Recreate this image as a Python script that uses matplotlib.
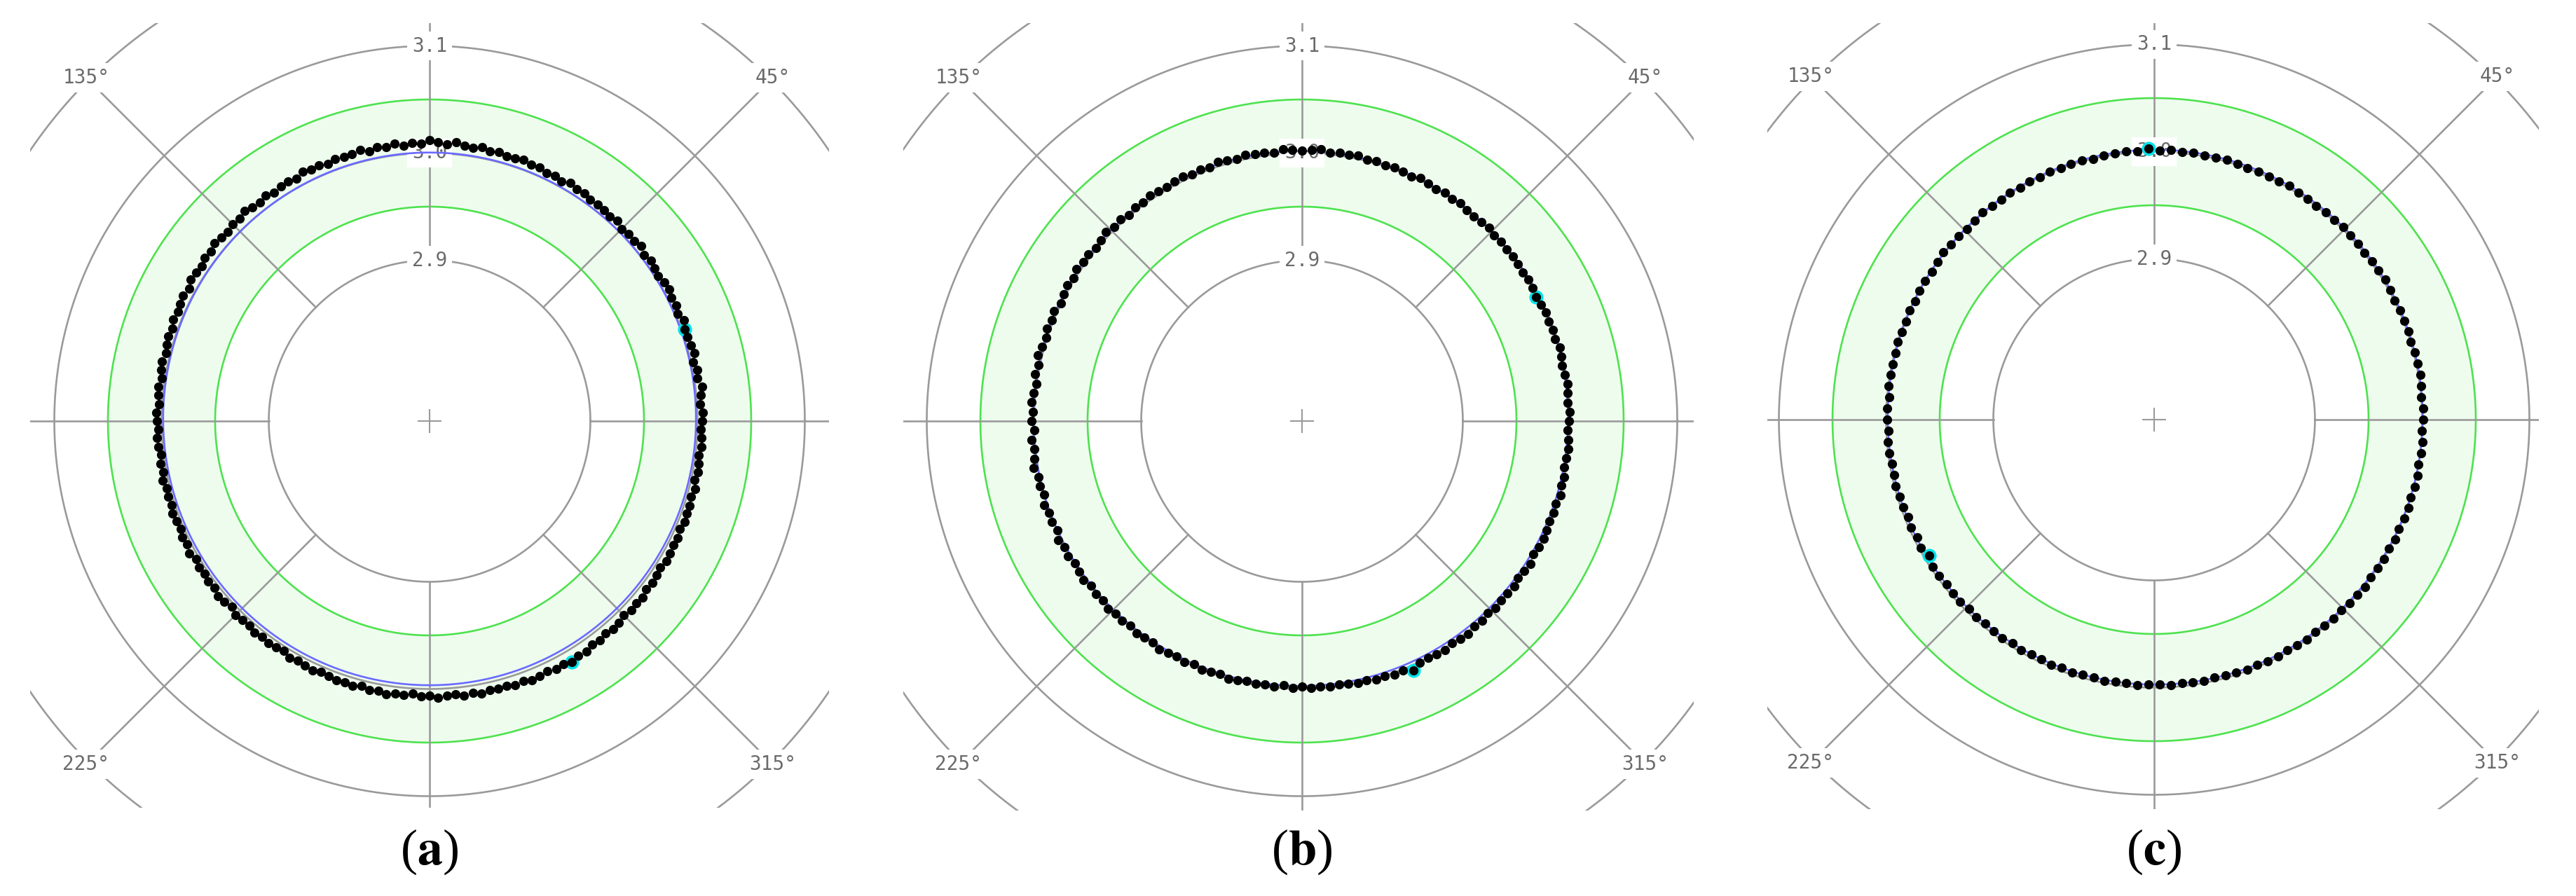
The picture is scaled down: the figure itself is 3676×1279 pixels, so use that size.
import numpy as np
import matplotlib
matplotlib.use("Agg")
import matplotlib.pyplot as plt
from matplotlib.patches import Rectangle

# radius ticks (mm) and tolerance band
r_ticks = [2.9, 3.0, 3.1, 3.2]
r_labels = ["2.9", "3.0", "3.1"]
tol_band = [2.95, 3.05]
spoke_angles = [0, 45, 90, 135, 180, 225, 270, 315]
theta_labels = ["45°", "135°", "225°", "315°"]
theta_label_angles = [45, 135, 225, 315]
captions = ["a", "b", "c"]

# radial deviation of each measured point from 3.000 mm, in micrometres
# (a) 200 points, 1.8 deg apart
dev_a = [
    4, 5, 3, 4, 6, 3, 4, 2, 5, 4,
    3, 3, 5, 2, 4, 3, 5, 4, 2, 4,
    5, 3, 6, 4, 5, 3, 6, 4, 5, 6,
    5, 7, 6, 8, 5, 7, 6, 8, 7, 9,
    8, 7, 9, 8, 10, 8, 9, 11, 9, 10,
    12, 9, 10, 8, 11, 9, 10, 8, 11, 9,
    9, 10, 8, 10, 9, 11, 8, 10, 9, 8,
    10, 8, 9, 11, 9, 10, 8, 9, 10, 8,
    9, 7, 8, 9, 6, 8, 7, 6, 7, 5,
    6, 5, 4, 6, 5, 3, 5, 4, 3, 5,
    4, 3, 5, 4, 2, 4, 3, 5, 3, 4,
    3, 5, 4, 3, 5, 4, 6, 3, 5, 4,
    5, 4, 6, 5, 3, 6, 5, 4, 6, 5,
    6, 5, 4, 7, 5, 6, 7, 5, 6, 7,
    6, 7, 5, 7, 6, 8, 6, 7, 5, 7,
    6, 8, 7, 6, 8, 7, 9, 7, 8, 7,
    9, 8, 10, 9, 8, 10, 9, 11, 9, 10,
    8, 9, 7, 9, 8, 6, 8, 7, 8, 6,
    7, 6, 5, 7, 6, 5, 6, 4, 6, 5,
    5, 4, 6, 3, 5, 4, 3, 5, 4, 3,
]
# (b) 180 points, 2 deg apart
dev_b = [
    -1, 0, -2, -1, 0, -1, -2, -1, 0, -2,
    -1, -2, -1, -2, -3, -2, -1, -2, -1, 0,
    -1, 0, -1, 1, 0, -1, 0, 1, 0, 1,
    0, 1, 2, 0, 1, 2, 1, 2, 1, 3,
    2, 3, 2, 4, 3, 2, 3, 4, 2, 3,
    3, 4, 2, 3, 4, 2, 3, 2, 4, 3,
    2, 3, 4, 2, 3, 1, 3, 2, 4, 2,
    1, 3, 2, 4, 1, 3, 2, 0, 3, 2,
    3, 1, 2, 4, 1, 3, 0, 2, 3, 1,
    2, 0, 3, 1, 2, 4, 1, 2, 0, 3,
    1, 2, 0, 3, 1, 2, 0, 1, 2, 0,
    1, 0, 2, 0, 1, -1, 1, 0, -1, 1,
    0, -1, 0, -2, 0, -1, -2, 0, -1, -2,
    -1, -2, -1, -3, -1, -2, -1, -2, -1, -2,
    -1, 0, -1, 1, 0, 2, 1, 5, 1, 0,
    1, 2, 0, 1, 2, 0, 1, -1, 1, 0,
    0, 1, -1, 0, 1, -1, 0, 1, 0, -1,
    0, -1, 1, -1, 0, -2, -1, 0, -1, -2,
]
# (c) 150 points, 2.4 deg apart
dev_c = [
    1, 1, 0, 1, 2, 1, 1, 0, 1, 1,
    1, 0, 1, 2, 1, 1, 0, 1, 1, 2,
    1, 1, 0, 1, 1, 2, 1, 1, 1, 0,
    1, 2, 1, 1, 2, 1, 2, 1, 3, 1,
    2, 1, 1, 0, 1, 1, 0, 1, 0, 1,
    0, 1, 0, 0, 1, 0, -1, 0, 0, 1,
    0, -1, 0, 0, -1, 0, -1, -1, 0, -1,
    -1, -1, 0, -2, -1, -1, -2, -1, -1, -2,
    -2, -1, -2, -2, -3, -2, -3, -2, -5, -2,
    -2, -3, -2, -2, -3, -2, -3, -2, -2, -3,
    -2, -3, -3, -2, -3, -2, -3, -3, -2, -3,
    -3, -2, -3, -3, -2, -3, -2, -2, -3, -2,
    -2, -1, -2, -1, -1, -2, -1, 0, -1, -1,
    0, -1, 0, 0, 1, 0, 0, 1, 0, 1,
    0, 1, 1, 0, 1, 1, 0, 1, 1, 0,
]
all_dev = [dev_a, dev_b, dev_c]

# highlighted points (index into each series)
marked = [[11, 167], [14, 147], [38, 88]]

# fitted reference circle: centre offset x, y (um) and radius (mm)
fit_cx = [0.0, -1.3, 1.0]
fit_cy = [2.0, 2.3, 2.3]
fit_radius = [2.9985, 2.9995, 2.9995]

# ---- layout (pixels of the 3676 x 1279 image) ----
W, H = 3676, 1279
PX_PER_MM = 1530
R_ORIGIN = 2.75
centers = [(613, 601), (1858, 601), (3074, 599)]
boxes = [(43, 1183, 33, 1153), (1289, 2417, 33, 1157), (2522, 3623, 33, 1155)]
caption_y = 1216

GRAY = "#9a9a9a"
TXT = "#6a6a6a"
GREEN = "#4ee24e"
BAND = "#eefcee"
BLUE = "#6a6aff"
CYAN = "#00e2ea"

plt.rcParams["mathtext.fontset"] = "stix"

fig = plt.figure(figsize=(W / 100, H / 100), dpi=100)

th = np.linspace(0, 2 * np.pi, 721)
R_AX = 811
label_box = dict(boxstyle="square,pad=0.25", fc="white", ec="none")

for k in range(3):
    cx, cy = centers[k]
    x0, x1, y0, y1 = boxes[k]
    ax = fig.add_axes([(cx - R_AX) / W, (H - cy - R_AX) / H, 2 * R_AX / W, 2 * R_AX / H],
                      projection="polar")
    ax.set_ylim(R_ORIGIN, R_ORIGIN + R_AX / PX_PER_MM)
    ax.set_axis_off()
    clip = Rectangle((x0 / W, 1 - y1 / H), (x1 - x0) / W, (y1 - y0) / H,
                     transform=fig.transFigure, visible=False)

    ax.fill_between(th, tol_band[0], tol_band[1], color=BAND, lw=0, zorder=1)
    for r in tol_band:
        ax.plot(th, np.full_like(th, r), color=GREEN, lw=1.9, zorder=2)
    for r in r_ticks:
        ax.plot(th, np.full_like(th, r), color=GRAY, lw=1.9, zorder=2)
    for a in spoke_angles:
        ax.plot([np.deg2rad(a)] * 2, [r_ticks[0], r_ticks[-1]], color=GRAY, lw=1.9, zorder=3)
    ax.plot([0], [R_ORIGIN], marker="+", ms=24, mew=1.5, color=GRAY, zorder=3)
    for lbl, r in zip(r_labels, r_ticks):
        ax.text(np.pi / 2, r, lbl, ha="center", va="center", fontsize=20,
                family="DejaVu Sans Mono", color=TXT, zorder=4, bbox=label_box)
    for lbl, a in zip(theta_labels, theta_label_angles):
        ax.text(np.deg2rad(a), 3.203, lbl, ha="center", va="center", fontsize=20,
                family="DejaVu Sans Mono", color=TXT, zorder=4, bbox=label_box)

    # fitted circle (offset circle seen from the polar origin)
    ex = fit_cx[k] / 1000
    ey = fit_cy[k] / 1000
    rho = fit_radius[k] - R_ORIGIN
    fit_r = R_ORIGIN + ex * np.cos(th) + ey * np.sin(th) + np.sqrt(
        rho ** 2 - (ex * np.sin(th) - ey * np.cos(th)) ** 2)
    ax.plot(th, fit_r, color=BLUE, lw=1.9, zorder=6)

    dev = np.array(all_dev[k], dtype=float)
    n = len(dev)
    theta = np.deg2rad(np.arange(n) * 360.0 / n)
    rad = 3.0 + dev / 1000
    idx = marked[k]
    ax.plot(theta[idx], rad[idx], "o", ms=13.5, color=CYAN, zorder=7)
    ax.plot(theta, rad, "o", ms=8.5, color="black", zorder=8)

    for art in ax.lines + ax.collections:
        art.set_clip_path(clip)

    fig.text(cx / W, 1 - caption_y / H, r"($\mathbf{%s}$)" % captions[k],
             ha="center", va="center", fontsize=52, family="Liberation Serif")

fig.savefig("out.png", dpi=100)
